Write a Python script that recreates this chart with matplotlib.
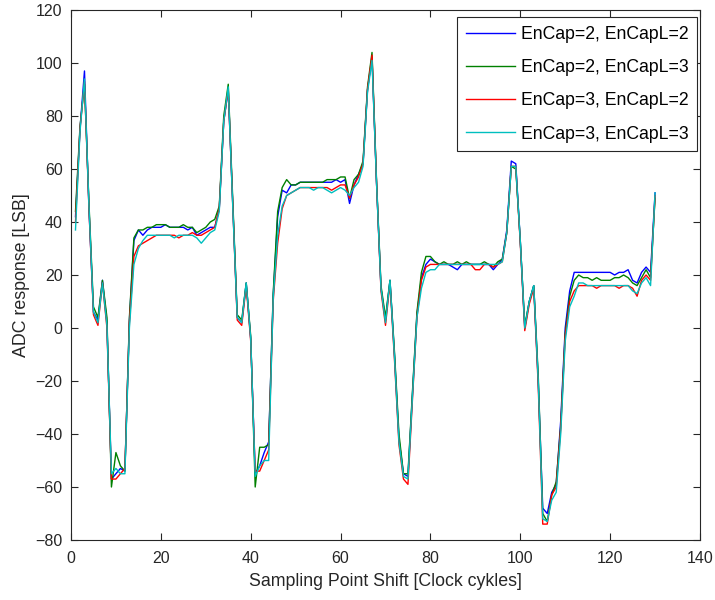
import matplotlib
matplotlib.use('Agg')
import matplotlib.pyplot as plt

x = list(range(1, 131))

blue = [42, 75, 97, 45, 6, 3, 18, 2, -57, -55, -53, -54, 3, 33, 37, 35, 37, 38, 38, 38,
        39, 38, 38, 38, 38, 37, 38, 35, 36, 37, 38, 38, 45, 78, 90, 47, 4, 2, 17, -4,
        -55, -52, -47, -43, 12, 42, 52, 51, 54, 54, 55, 55, 55, 55, 55, 55, 55, 55, 56, 55,
        56, 47, 54, 58, 62, 90, 102, 55, 15, 3, 18, -10, -42, -55, -56, -25, 5, 19, 24, 26,
        25, 24, 24, 24, 23, 22, 24, 24, 24, 24, 24, 24, 24, 22, 24, 26, 37, 63, 62, 33,
        0, 10, 16, -20, -68, -70, -62, -59, -35, 0, 14, 21, 21, 21, 21, 21, 21, 21, 21, 21,
        20, 21, 21, 22, 18, 17, 21, 23, 21, 51]

green = [44, 76, 92, 47, 8, 4, 18, 4, -60, -47, -52, -54, 4, 34, 37, 37, 38, 38, 39, 39,
         39, 38, 38, 38, 39, 38, 38, 36, 37, 38, 40, 41, 46, 80, 92, 48, 5, 3, 17, -3,
         -60, -45, -45, -44, 13, 44, 53, 56, 54, 54, 55, 55, 55, 55, 55, 55, 56, 56, 56, 57,
         57, 49, 56, 58, 63, 91, 104, 56, 16, 4, 18, -9, -40, -55, -55, -24, 6, 21, 27, 27,
         25, 24, 25, 24, 24, 25, 24, 25, 24, 24, 24, 25, 24, 23, 25, 26, 36, 61, 60, 33,
         1, 10, 16, -18, -70, -73, -63, -58, -37, -2, 12, 18, 20, 19, 19, 18, 19, 18, 18, 18,
         19, 19, 20, 19, 17, 16, 19, 22, 19, 49]

red = [40, 75, 93, 45, 5, 1, 17, 0, -57, -57, -55, -53, 2, 27, 31, 32, 33, 34, 35, 35,
       35, 35, 35, 34, 35, 35, 36, 35, 35, 36, 37, 38, 45, 78, 90, 46, 3, 1, 16, -5,
       -54, -54, -50, -46, 10, 32, 45, 50, 51, 52, 53, 53, 53, 53, 53, 53, 53, 52, 53, 54,
       54, 49, 54, 57, 62, 90, 103, 55, 14, 1, 17, -12, -44, -57, -59, -27, 4, 18, 23, 24,
       24, 24, 24, 24, 24, 24, 24, 24, 24, 22, 22, 24, 24, 23, 24, 25, 36, 61, 61, 32,
       -1, 9, 15, -22, -74, -74, -63, -60, -38, -3, 10, 14, 16, 16, 16, 16, 15, 16, 16, 16,
       16, 15, 16, 16, 15, 12, 18, 20, 18, 50]

cyan = [37, 74, 94, 46, 6, 2, 17, 1, -55, -53, -55, -55, 0, 24, 30, 33, 35, 35, 35, 35,
        35, 35, 34, 35, 35, 35, 35, 34, 32, 34, 36, 37, 44, 78, 91, 46, 4, 2, 17, -4,
        -56, -52, -50, -50, 11, 35, 46, 50, 51, 52, 53, 53, 53, 52, 53, 53, 52, 51, 52, 53,
        52, 50, 53, 55, 61, 89, 101, 55, 15, 2, 18, -11, -43, -56, -57, -26, 4, 15, 21, 22,
        22, 24, 24, 24, 24, 24, 24, 24, 24, 24, 24, 24, 24, 24, 24, 25, 36, 61, 61, 33,
        0, 10, 16, -20, -72, -73, -65, -62, -40, -5, 8, 12, 17, 17, 16, 16, 16, 16, 16, 16,
        16, 16, 16, 16, 14, 13, 17, 19, 16, 51]

labels = ['EnCap=2, EnCapL=2', 'EnCap=2, EnCapL=3',
          'EnCap=3, EnCapL=2', 'EnCap=3, EnCapL=3']
colors = ['#0000FF', '#008000', '#FF0000', '#00BFBF']
xticks = [0, 20, 40, 60, 80, 100, 120, 140]
yticks = [-80, -60, -40, -20, 0, 20, 40, 60, 80, 100, 120]

plt.rcParams['font.family'] = ['Liberation Sans', 'DejaVu Sans']

fig = plt.figure(figsize=(7.15, 6.0), dpi=100)
ax = fig.add_axes([0.0993, 0.1, 0.8797, 0.8833])

for ser, lab, col in zip([blue, green, red, cyan], labels, colors):
    ax.plot(x, ser, color=col, lw=1.0, label=lab)

ax.set_xlim(0, 140)
ax.set_ylim(-80, 120)
ax.set_xticks(xticks)
ax.set_yticks(yticks)
ax.tick_params(direction='in', top=True, right=True, length=5, width=0.8,
               labelsize=11.5, colors='#262626')
ax.tick_params(axis='x', pad=8)
ax.tick_params(axis='y', pad=6)
for sp in ax.spines.values():
    sp.set_linewidth(0.8)
    sp.set_color('#262626')

ax.set_xlabel('Sampling Point Shift [Clock cykles]', fontsize=12.8, color='#262626', labelpad=5)
ax.set_ylabel('ADC response [LSB]', fontsize=12.8, color='#262626', labelpad=4)

leg = ax.legend(loc='upper right', fontsize=12.7, frameon=True, fancybox=False,
                framealpha=1, edgecolor='#262626', handlelength=2.8,
                labelspacing=0.92, borderaxespad=0, handletextpad=0.3,
                borderpad=0.5, bbox_to_anchor=(697 / 715, (600 - 17) / 600),
                bbox_transform=fig.transFigure)
leg.get_frame().set_linewidth(0.8)

fig.savefig('out.png', dpi=100)
